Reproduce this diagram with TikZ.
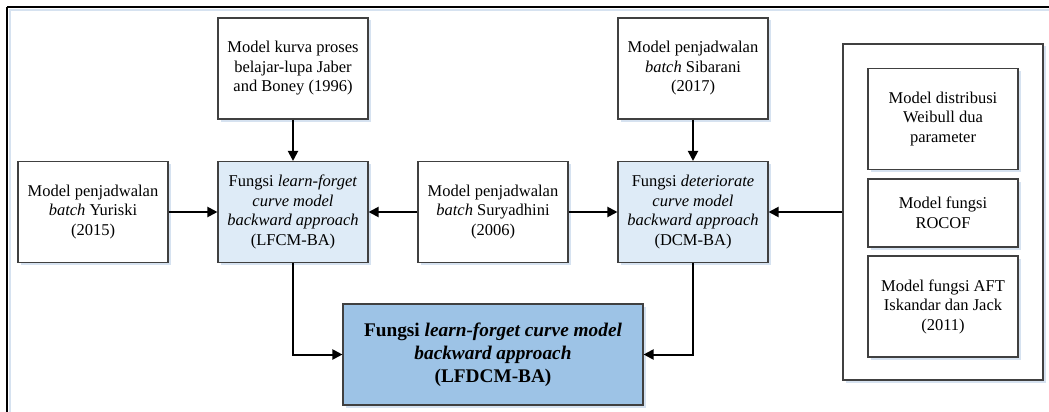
\documentclass[tikz,border=0pt]{standalone}
\usepackage{fontspec}
\setmainfont{Liberation Serif}
\usetikzlibrary{arrows.meta,shadows}
\definecolor{lightfill}{HTML}{DEEBF7}
\definecolor{darkfill}{HTML}{9DC3E6}
\definecolor{boxline}{HTML}{404040}
\definecolor{shadowc}{HTML}{D6E2F0}
\tikzset{
  box/.style={draw=boxline, line width=1.1pt, fill=white, align=center,
    font=\fontsize{16.5}{19.5}\selectfont, inner sep=2pt,
    minimum width=150pt, minimum height=101pt,
    drop shadow={shadow xshift=2.5pt, shadow yshift=-2.5pt, fill=shadowc, opacity=1}},
  funbox/.style={box, fill=lightfill},
  arr/.style={line width=2pt, -{Triangle[length=10pt,width=10pt]}},
}
\begin{document}
\begin{tikzpicture}[x=1pt,y=-1pt]
\useasboundingbox (0,0) rectangle (1049,412);
% outer frame (top and left edges visible)
\draw[shadowc, line width=2pt] (9,10) -- (1049,10);
\draw[shadowc, line width=2pt] (10,9) -- (10,412);
\draw[black, line width=1.2pt] (7,7) -- (1049,7);
\draw[black, line width=1.2pt] (7,7) -- (7,412);

\node[box] (jaber) at (293,68.5) {Model kurva proses\\belajar-lupa Jaber\\and Boney (1996)};
\node[box] (yuriski) at (93,212) {Model penjadwalan\\\textit{batch} Yuriski\\(2015)};
\node[funbox] (lfcm) at (293,212) {Fungsi \textit{learn-forget}\\\textit{curve model}\\\textit{backward approach}\\(LFCM-BA)};
\node[box] (surya) at (493,212) {Model penjadwalan\\\textit{batch} Suryadhini\\(2006)};
\node[box] (sibarani) at (693,68.5) {Model penjadwalan\\\textit{batch} Sibarani\\(2017)};
\node[funbox] (dcm) at (693,212) {Fungsi \textit{deteriorate}\\\textit{curve model}\\\textit{backward approach}\\(DCM-BA)};

\node[box, minimum width=200pt, minimum height=336pt] (grp) at (943,212) {};
\node[box] (weibull) at (943,119) {Model distribusi\\Weibull dua\\parameter};
\node[box, minimum height=68pt] (rocof) at (943,213) {Model fungsi\\ROCOF};
\node[box] (aft) at (943,306.5) {Model fungsi AFT\\Iskandar dan Jack\\(2011)};

\node[box, fill=darkfill, minimum width=300pt, font=\fontsize{19.3}{23}\selectfont\bfseries] (lfdcm) at (493,354.5)
  {Fungsi \textit{learn-forget curve model}\\\textit{backward approach}\\(LFDCM-BA)};

\draw[arr] (jaber) -- (lfcm);
\draw[arr] (sibarani) -- (dcm);
\draw[arr] (yuriski) -- (lfcm);
\draw[arr] (surya) -- (lfcm);
\draw[arr] (surya) -- (dcm);
\draw[arr] (grp.west) -- (dcm.east);
\draw[arr] (lfcm.south) |- (lfdcm.west);
\draw[arr] (dcm.south) |- (lfdcm.east);
\end{tikzpicture}
\end{document}
